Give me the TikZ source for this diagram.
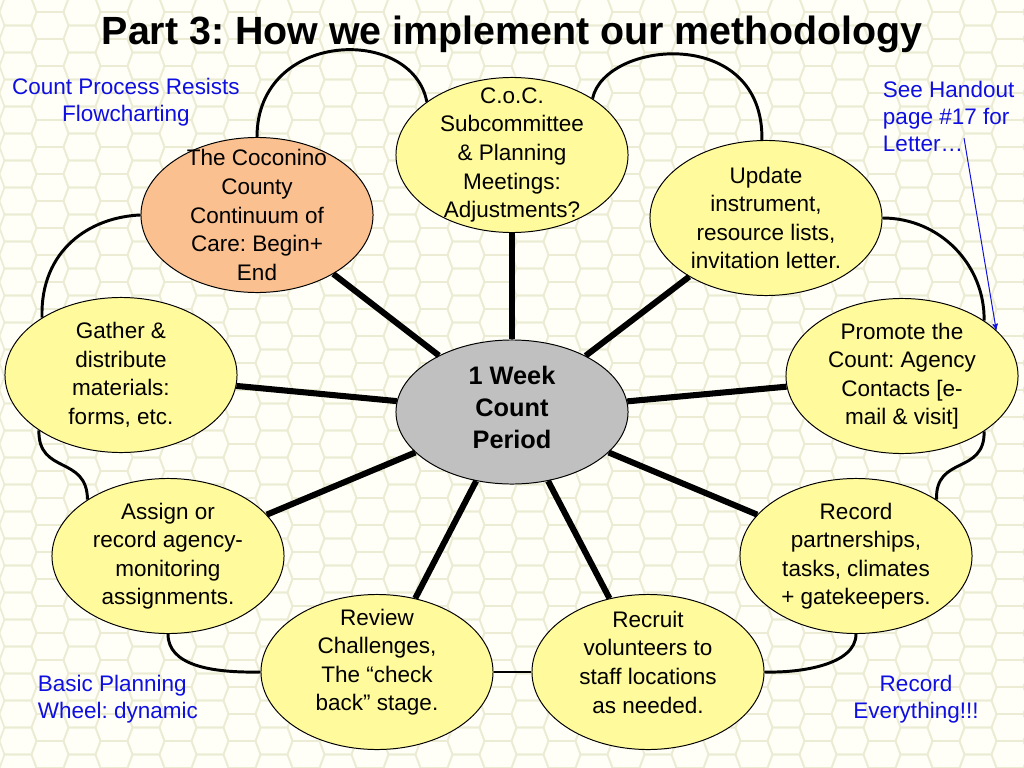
\documentclass[tikz,border=0pt]{standalone}
\usepackage{fontspec}
\setmainfont{Liberation Sans}
\frenchspacing
\usetikzlibrary{shapes.geometric, graphs, arrows}

\definecolor{pale}{RGB}{255,250,155}
\definecolor{peach}{RGB}{250,192,144}
\definecolor{hubgray}{RGB}{192,192,192}
\definecolor{ink}{RGB}{15,15,225}
\definecolor{paper}{RGB}{255,255,248}
\definecolor{combline}{RGB}{236,236,212}

\begin{document}
\begin{tikzpicture}[
                    x=0.025cm,
                    y=-0.025cm,
                    >=stealth',
                    phase/.style={ellipse, draw, line width=0.7pt, fill=pale,
                        minimum width=5.8cm, minimum height=3.875cm, inner sep=0pt},
                    words/.style={align=center, font=\fontsize{16}{20.3}\selectfont},
                    hub/.style={ellipse, draw, line width=0.7pt, fill=hubgray,
                        minimum width=5.8cm, minimum height=3.6cm, inner sep=0pt},
                    hubwords/.style={align=center, font=\fontsize{18}{22.8}\selectfont\bfseries},
                    spoke/.style={line width=4.3pt},
                    rim/.style={line width=2.1pt},
                    note/.style={text=ink, font=\fontsize{16}{19.2}\selectfont},
                    cell/.style={draw=combline, line width=1.2pt},
                ]
                % honeycomb paper
                \useasboundingbox (0,0) rectangle (1024,768);
                \fill[paper] (0,0) rectangle (1024,768);
                \begin{scope}
                    \clip (0,0) rectangle (1024,768);
                    \foreach \i in {0,...,32}
                        \foreach \j in {-1,...,29}{
                            \pgfmathsetmacro\cx{18+32*\i}
                            \pgfmathsetmacro\cy{12+27*\j+13.5*mod(\i,2)}
                            \draw[cell] (\cx-18.5,\cy) -- ++(5,-13.5) -- ++(27,0)
                                -- ++(5,13.5) -- ++(-5,13.5) -- ++(-27,0) -- cycle;
                        }
                \end{scope}

                \node[font=\fontsize{28}{34}\selectfont\bfseries] (title) at (512,34)
                    {Part 3: How we implement our methodology};

                \node[hub, label={[hubwords, yshift=3pt]center:{1 Week\\Count\\Period}}] (hub) at (512,412) {};
                \node[phase, fill=peach, label={[words]center:{The Coconino\\County\\Continuum of\\Care: Begin+\\End}}] (coco) at (257,215) {};
                \node[phase, label={[words]center:{C.o.C.\\Subcommittee\\\& Planning\\Meetings:\\Adjustments?}}] (coc) at (512,155) {};
                \node[phase, label={[words]center:{Update\\instrument,\\resource lists,\\invitation letter.}}] (upd) at (766,218) {};
                \node[phase, label={[words]center:{Gather \&\\distribute\\materials:\\forms, etc.}}] (gat) at (121,375) {};
                \node[phase, label={[words]center:{Promote the\\Count: Agency\\Contacts [e-\\mail \& visit]}}] (prom) at (902,376) {};
                \node[phase, label={[words]center:{Assign or\\record agency-\\monitoring\\assignments.}}] (asg) at (168,556) {};
                \node[phase, label={[words]center:{Record\\partnerships,\\tasks, climates\\+ gatekeepers.}}] (rec) at (856,556) {};
                \node[phase, label={[words, yshift=7pt]center:{Review\\Challenges,\\The “check\\back” stage.}}] (rev) at (377,672) {};
                \node[phase, label={[words, yshift=7pt]center:{Recruit\\volunteers to\\staff locations\\as needed.}}] (recr) at (648,672) {};

                \graph[use existing nodes, edges={spoke}]{
                    hub -- {coco, coc, upd, gat, prom, asg, rec, rev, recr};
                };

                % the outer ring
                \draw[rim] (coco.90) .. controls (257,30) and (412,25) .. (coc.148);
                \draw[rim] (coc.35) .. controls (605,40) and (764,25) .. (upd.93);
                \draw[rim] (upd.0) .. controls (940,218) and (985,265) .. (prom.34);
                \draw[rim] (prom.-34) .. controls (985,475) and (935,455) .. (rec.35);
                \draw[rim] (rec.-90) .. controls (856,665) and (800,673) .. (recr.0);
                \draw[rim] (recr.180) -- (rev.0);
                \draw[rim] (rev.180) .. controls (210,673) and (168,665) .. (asg.-90);
                \draw[rim] (asg.145) .. controls (87,455) and (38,475) .. (gat.214);
                \draw[rim] (gat.144) .. controls (40,250) and (90,217) .. (coco.180);

                \node[note, align=center] (resist) at (126,102) {Count Process Resists\\Flowcharting};
                \node[note, align=left, anchor=west] (handout) at (878,116) {See Handout\\page \#17 for\\Letter…};
                \node[note, align=left, anchor=west] (basic) at (33,699) {Basic Planning\\Wheel: dynamic};
                \node[note, align=center] (everything) at (916,699) {Record\\Everything!!!};

                \coordinate (tail) at (964,138);
                \draw[->, ink, line width=0.7pt] (tail) -- (prom.26);
            \end{tikzpicture}
\end{document}
